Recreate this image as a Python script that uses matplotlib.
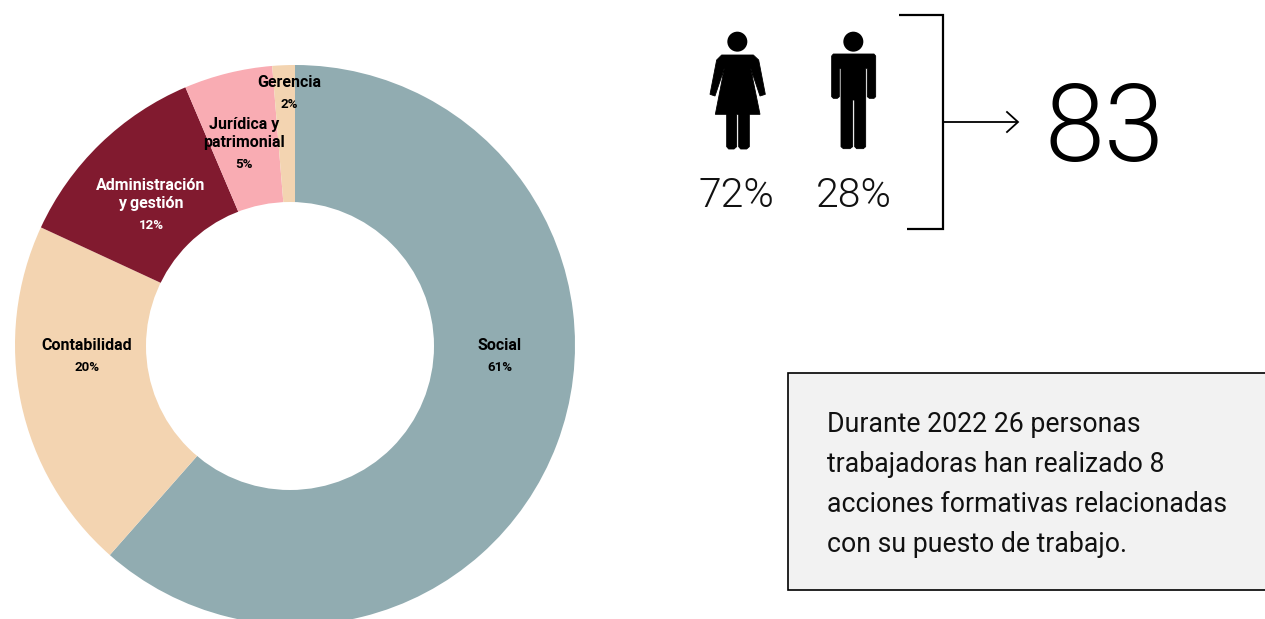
import matplotlib
matplotlib.use("Agg")
import matplotlib.pyplot as plt
from matplotlib.patches import Circle, Rectangle, Polygon

plt.rcParams['font.family'] = ['Roboto', 'DejaVu Sans']

# Data
areas = ["Social", "Contabilidad", "Administración\ny gestión", "Jurídica y\npatrimonial", "Gerencia"]
shares = [61.5, 20.4, 11.7, 5.1, 1.3]
pct_labels = ["61%", "20%", "12%", "5%", "2%"]
colors = ["#91ACB1", "#F3D4B1", "#811A2F", "#F9ACB3", "#F3D4B1"]
text_colors = ["black", "black", "white", "black", "black"]
gender_pct = ["72%", "28%"]
total = "83"
note = ("Durante 2022 26 personas\ntrabajadoras han realizado 8\n"
        "acciones formativas relacionadas\ncon su puesto de trabajo.")

W, H = 1265, 619
fig = plt.figure(figsize=(W / 100, H / 100), dpi=100)
ax = fig.add_axes([0, 0, 1, 1])

# Pie: axes y is inverted, so the visual clockwise direction flips
ax.pie(shares, colors=colors, radius=280, center=(295, 345),
       startangle=-90, counterclock=True, frame=True,
       wedgeprops=dict(linewidth=0))
ax.set_xlim(0, W)
ax.set_ylim(H, 0)
ax.set_aspect("equal")
ax.axis("off")
ax.add_patch(Circle((290, 346), 144, fc="white", ec="none", zorder=3))

name_pos = [(499.5, 345.5), (87, 345.5), (151, 194.5), (244, 133.5), (289.5, 82.5)]
pct_pos = [(499.5, 367.5), (87, 367.5), (151, 225.5), (243.5, 164.5), (289, 104.5)]
for name, pct, c, p1, p2 in zip(areas, pct_labels, text_colors, name_pos, pct_pos):
    ax.text(*p1, name, ha="center", va="center", fontsize=11.5, fontweight="bold",
            color=c, zorder=4, linespacing=1.32)
    ax.text(*p2, pct, ha="center", va="center", fontsize=9.5, fontweight="bold",
            color=c, zorder=4)

# Pictograms (decorative, in pixel coordinates)
def z(x, y):
    return (680 + x / 3, y / 3)

def poly(pts, fc="black"):
    ax.add_patch(Polygon([z(*p) for p in pts], closed=True, fc=fc, ec=fc, lw=0.6, zorder=3))

# Woman
ax.add_patch(Circle(z(172, 125), 10, fc="black", ec="none", zorder=3))
poly([(125, 165), (220, 165), (236, 180), (256, 283), (240, 288), (212, 205), (240, 343),
      (208, 343), (208, 440), (200, 447), (182, 447), (176, 440), (176, 343), (170, 343),
      (170, 440), (162, 447), (146, 447), (140, 440), (140, 343), (106, 343), (133, 205),
      (105, 288), (90, 283), (110, 180)])
# Man
ax.add_patch(Circle(z(520, 125), 10, fc="black", ec="none", zorder=3))
poly([(460, 162), (582, 162), (587, 168), (587, 290), (582, 295), (568, 295), (562, 290),
      (562, 205), (557, 205), (557, 440), (550, 446), (530, 446), (524, 440), (524, 300),
      (518, 300), (518, 440), (510, 446), (490, 446), (483, 440), (483, 205), (478, 205),
      (478, 290), (472, 295), (460, 295), (455, 290), (455, 168)])

for x, t in zip([736.5, 853.5], gender_pct):
    ax.text(x, 196, t, ha="center", va="center", fontsize=29.5, fontweight=300, color="#111111")

# Bracket and arrow
ax.plot([899, 942.5, 942.5, 907], [15, 15, 229, 229], color="black", lw=1.6,
        solid_joinstyle="miter", solid_capstyle="butt")
ax.plot([943, 1018], [122, 122], color="black", lw=1.3, solid_capstyle="butt")
ax.plot([1007, 1018, 1007], [112, 122, 132], color="black", lw=1.3, solid_joinstyle="miter")

ax.text(1105, 131, total, ha="center", va="center", fontsize=78, fontweight=300, color="black")

# Note box
ax.add_patch(Rectangle((788, 373), 490, 217, fc="#F2F2F2", ec="black", lw=1.2, zorder=2))
for i, line in enumerate(note.split("\n")):
    ax.text(827, 424.5 + i * 40, line, ha="left", va="center", fontsize=19.2, color="#111111", zorder=3)

fig.savefig("out.png", dpi=100)
